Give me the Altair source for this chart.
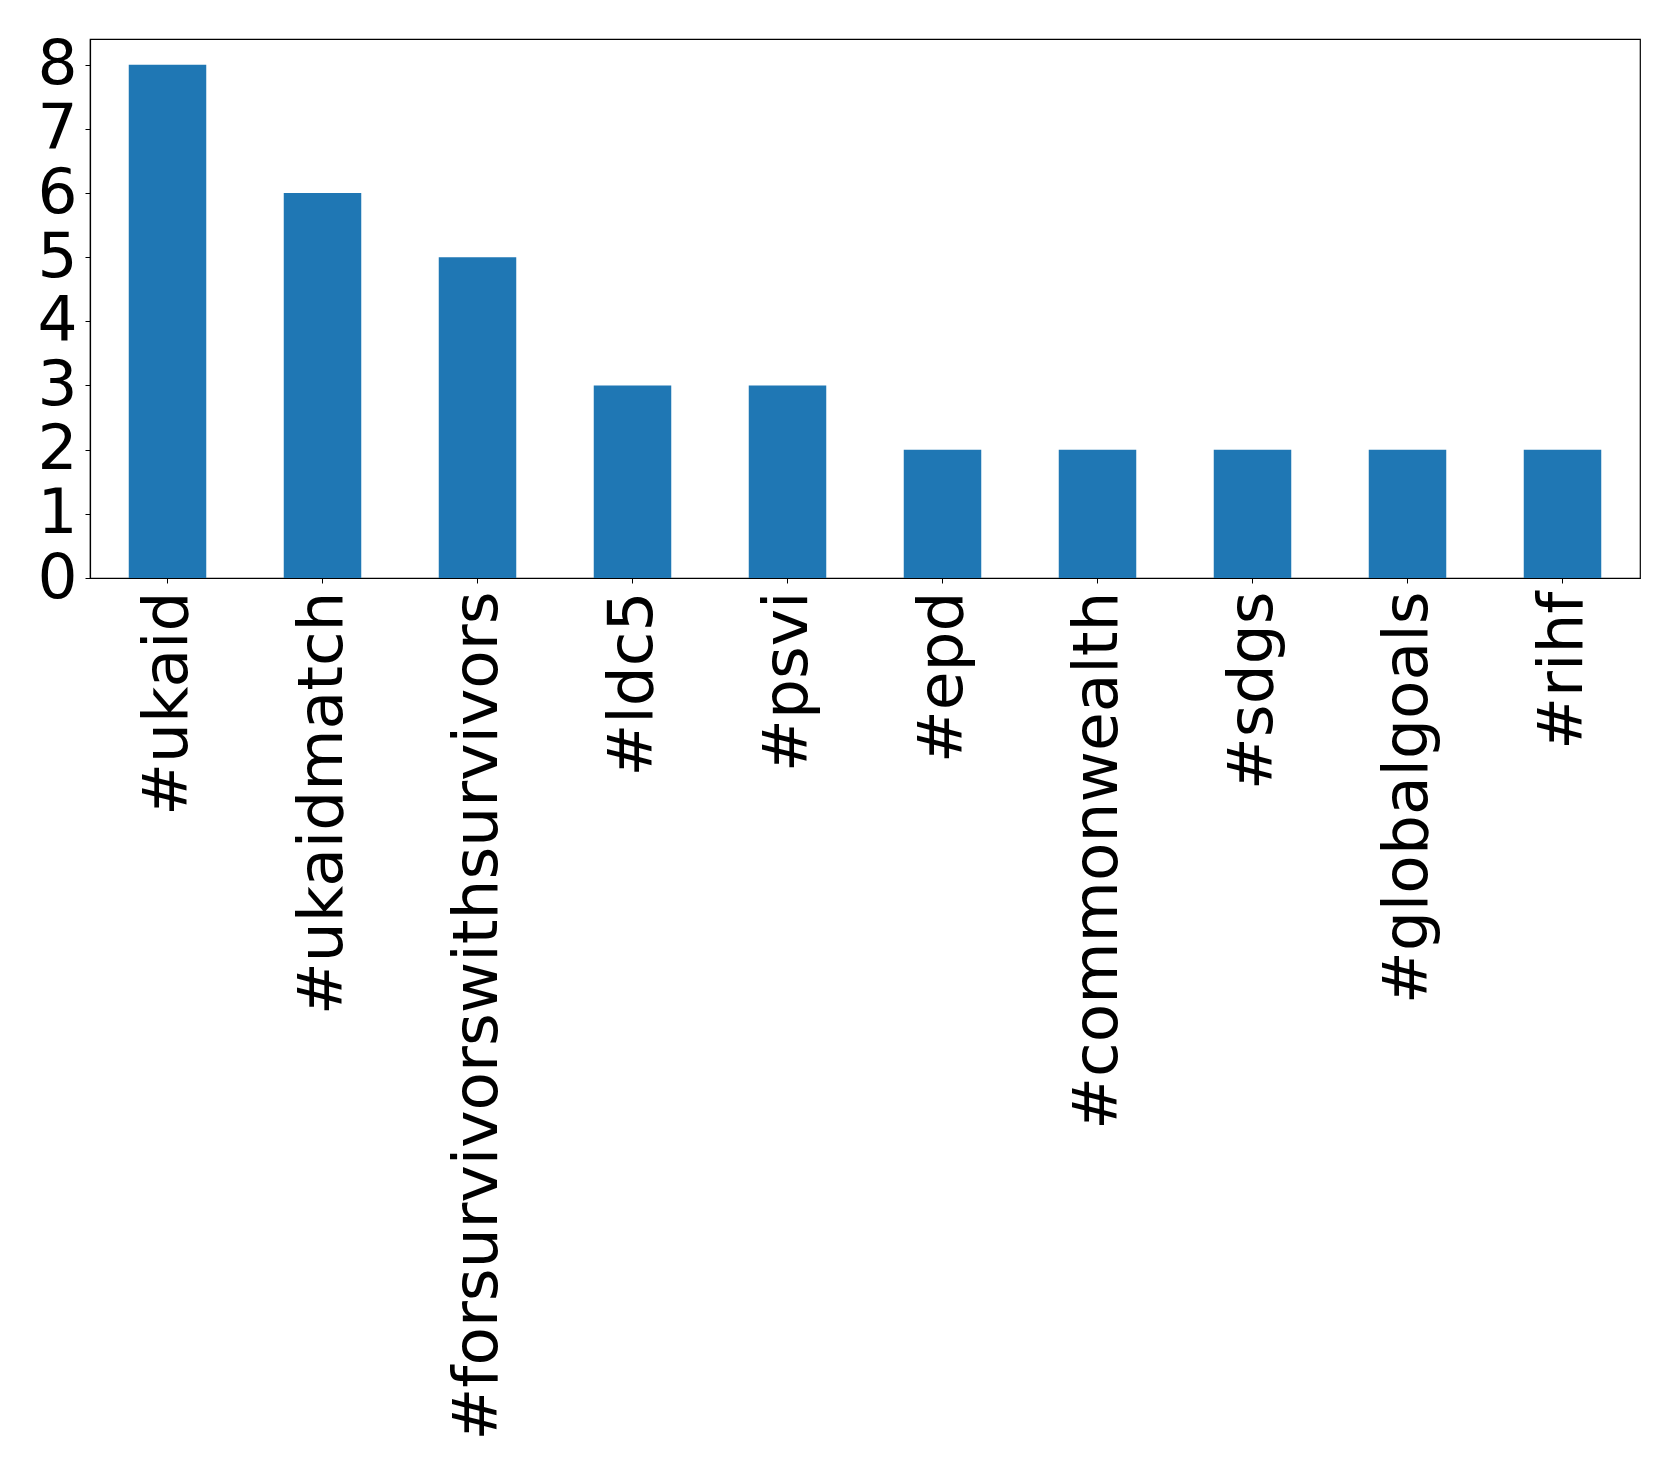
import altair as alt
import pandas as pd

hashtags = ["#ukaid", "#ukaidmatch", "#forsurvivorswithsurvivors", "#ldc5", "#psvi",
            "#epd", "#commonwealth", "#sdgs", "#globalgoals", "#rihf"]
counts = [8, 6, 5, 3, 3, 2, 2, 2, 2, 2]
y_ticks = [0, 1, 2, 3, 4, 5, 6, 7, 8]

df = pd.DataFrame({"tag": hashtags, "count": counts})

FONT = "DejaVu Sans"
FS = 63

chart = alt.Chart(df).mark_bar(color="#1f77b4").encode(
    x=alt.X("tag:N", sort=hashtags, title=None,
            scale=alt.Scale(paddingInner=0.5, paddingOuter=0.25),
            axis=alt.Axis(labelAngle=270, labelFont=FONT, labelFontSize=FS,
                          labelColor="black", labelPadding=8, tickSize=5,
                          tickColor="black", domainColor="black", domainWidth=1.2,
                          labelLimit=2000, labelAlign="right", labelBaseline="middle")),
    y=alt.Y("count:Q", title=None,
            scale=alt.Scale(domain=[0, 8.4], nice=False, zero=True),
            axis=alt.Axis(values=y_ticks, grid=False, labelFont=FONT, labelFontSize=FS,
                          labelColor="black", labelPadding=8, tickSize=5,
                          tickColor="black", domainColor="black", domainWidth=1.2,
                          labelFlush=False, labelOverlap=False)),
).properties(
    width=1550,
    height=539,
    autosize=alt.AutoSizeParams(type="none"),
    padding={"left": 82, "top": 31, "right": 30, "bottom": 890},
).configure(
    background="white"
).configure_view(
    stroke="black", strokeWidth=1.2
)

chart.save("out.html", embed_options={"renderer": "svg", "actions": False})
